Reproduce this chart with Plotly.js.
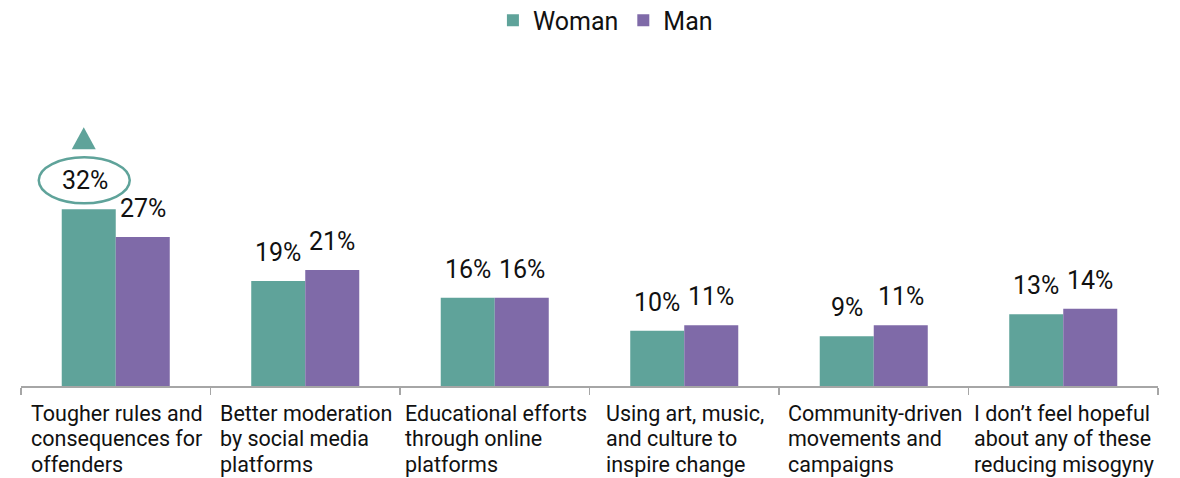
<!DOCTYPE html>
<html>
<head>
<meta charset="utf-8">
<script src="https://cdn.plot.ly/plotly-3.0.1.min.js"></script>
<style>html,body{margin:0;padding:0;background:#fff;}#chart{width:1180px;height:478px;}</style>
</head>
<body>
<div id="chart"></div>
<script>
var categories = [
  "Tougher rules and<br>consequences for<br>offenders",
  "Better moderation<br>by social media<br>platforms",
  "Educational efforts<br>through online<br>platforms",
  "Using art, music,<br>and culture to<br>inspire change",
  "Community-driven<br>movements and<br>campaigns",
  "I don’t feel hopeful<br>about any of these<br>reducing misogyny"
];
var woman = [32, 19, 16, 10, 9, 13];
var man = [27, 21, 16, 11, 11, 14];

var teal = "#5fa39a";
var purple = "#7f6aa8";
var font = "Roboto, 'Noto Sans', sans-serif";
var labelSize = 21.5;

var ctx = document.createElement("canvas").getContext("2d");
ctx.font = labelSize + "px Roboto";

var traces = [
  {type: "bar", name: "Woman", x: categories, y: woman, marker: {color: teal}, hoverinfo: "skip"},
  {type: "bar", name: "Man", x: categories, y: man, marker: {color: purple}, hoverinfo: "skip"}
];

var annotations = [];
categories.forEach(function (c, i) {
  annotations.push({x: c, y: woman[i], xref: "x", yref: "y", text: woman[i] + "%", showarrow: false,
    xanchor: "center", yanchor: "bottom", xshift: i === 0 ? -31 : -27, yshift: 12, font: {family: font, size: 25, color: "#111"}});
  annotations.push({x: c, y: man[i], xref: "x", yref: "y", text: man[i] + "%", showarrow: false,
    xanchor: "center", yanchor: "bottom", xshift: 27, yshift: 12, font: {family: font, size: 25, color: "#111"}});
  var lines = c.split("<br>");
  var w = Math.max.apply(null, lines.map(function (l) { return ctx.measureText(l).width; }));
  lines.forEach(function (line, j) {
    annotations.push({x: c, y: 0, xref: "x", yref: "paper", text: line, showarrow: false, align: "left",
      xanchor: "left", yanchor: "top", xshift: -w / 2 - 1, yshift: -12.7 - 25.6 * j,
      font: {family: font, size: labelSize, color: "#111"}});
  });
});

var layout = {
  width: 1180, height: 478,
  margin: {l: 21, r: 22, t: 109.5, b: 92},
  paper_bgcolor: "#fff", plot_bgcolor: "#fff",
  barmode: "group", bargap: 0.43, bargroupgap: 0,
  font: {family: font, color: "#111"},
  showlegend: true,
  legend: {orientation: "h", x: 0.514, xanchor: "center", y: 0.957, yref: "container", yanchor: "middle",
    font: {family: font, size: 25, color: "#111"}, traceorder: "normal", itemclick: false},
  xaxis: {type: "category", showticklabels: false, showline: true, linecolor: "#a6a6a6", linewidth: 1.5,
    ticks: "outside", tickson: "boundaries", ticklen: 7, tickcolor: "#a6a6a6", tickwidth: 1.5,
    showgrid: false, zeroline: false, fixedrange: true},
  yaxis: {range: [0, 50], visible: false, showgrid: false, zeroline: false, fixedrange: true},
  annotations: annotations,
  shapes: [
    {type: "circle", xref: "x", yref: "y", xsizemode: "pixel", ysizemode: "pixel",
      xanchor: categories[0], yanchor: woman[0], x0: -77, x1: 14, y0: 6, y1: 52,
      line: {color: teal, width: 2.5}, fillcolor: "rgba(0,0,0,0)"},
    {type: "path", xref: "x", yref: "y", xsizemode: "pixel", ysizemode: "pixel",
      xanchor: categories[0], yanchor: woman[0],
      path: "M-44,60 L-20,60 L-32,82 Z", line: {width: 0}, fillcolor: teal}
  ]
};

Plotly.newPlot("chart", traces, layout, {displayModeBar: false, staticPlot: true});
</script>
</body>
</html>
